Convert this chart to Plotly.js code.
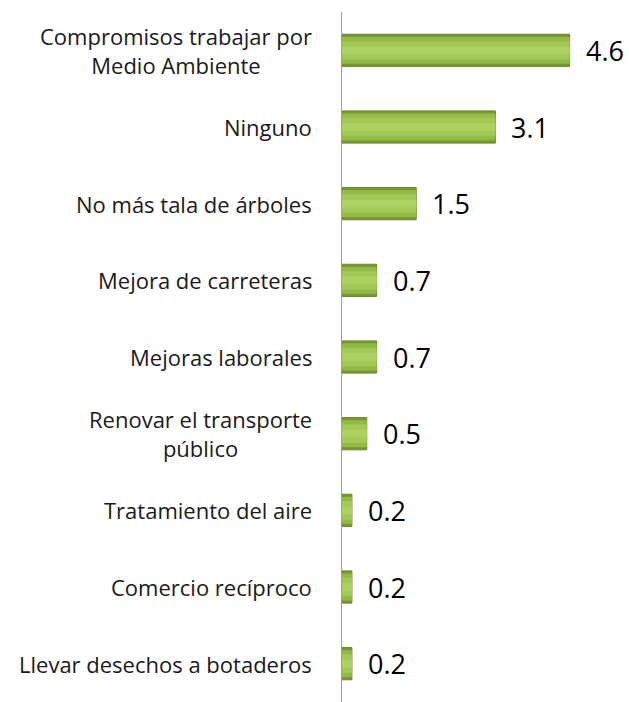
<!DOCTYPE html>
<html>
<head>
<meta charset="utf-8">
<script src="https://cdn.plot.ly/plotly-3.0.1.min.js"></script>
<style>html,body{margin:0;padding:0;background:#fff;}#chart{width:629px;height:702px;}</style>
</head>
<body>
<div id="chart"></div>
<script>
const categories = [
  "Compromisos trabajar por<br>Medio Ambiente",
  "Ninguno",
  "No más tala de árboles",
  "Mejora de carreteras",
  "Mejoras laborales",
  "Renovar el transporte<br>público",
  "Tratamiento del aire",
  "Comercio recíproco",
  "Llevar desechos a botaderos"
];
const values = [4.6, 3.1, 1.5, 0.7, 0.7, 0.5, 0.2, 0.2, 0.2];
const valueLabels = ["4.6", "3.1", "1.5", "0.7", "0.7", "0.5", "0.2", "0.2", "0.2"];

const FONT = "Open Sans, Liberation Sans, sans-serif";

const traces = [
  {type: "bar", orientation: "h", y: categories, x: values, width: 0.42,
   marker: {color: "#7a9832", line: {color: "#6b8729", width: 1}}, hoverinfo: "skip"},
  {type: "bar", orientation: "h", y: categories, x: values, width: 0.35,
   marker: {color: "#92ba47", line: {width: 0}}, hoverinfo: "skip"},
  {type: "bar", orientation: "h", y: categories, x: values, width: 0.24,
   marker: {color: "#a2c956", line: {width: 0}}, hoverinfo: "skip"},
  {type: "bar", orientation: "h", y: categories, x: values, width: 0.1,
   marker: {color: "#add263", line: {width: 0}}, hoverinfo: "skip"}
];

const annotations = [];
categories.forEach((c, i) => {
  annotations.push({
    xref: "paper", yref: "y", x: 0, y: c, xanchor: "right", yanchor: "middle",
    xshift: -28, text: c, align: "center", showarrow: false,
    font: {family: FONT, size: 22, color: "#1a1a1a"}
  });
  annotations.push({
    xref: "x", yref: "y", x: values[i], y: c, xanchor: "left", yanchor: "middle",
    xshift: 14, text: valueLabels[i], showarrow: false,
    font: {family: FONT, size: 27, color: "#000"}
  });
});

const layout = {
  width: 629, height: 702,
  margin: {l: 342, r: 0, t: 12, b: 0, pad: 0},
  paper_bgcolor: "#fff", plot_bgcolor: "#fff",
  barmode: "overlay", showlegend: false,
  xaxis: {range: [0, 5.8], visible: false, fixedrange: true},
  yaxis: {autorange: "reversed", showticklabels: false, ticks: "", showgrid: false,
          zeroline: false, showline: true, linecolor: "#a0a0a0", linewidth: 1.5},
  annotations: annotations
};

Plotly.newPlot("chart", traces, layout, {displayModeBar: false, staticPlot: true});
</script>
</body>
</html>
